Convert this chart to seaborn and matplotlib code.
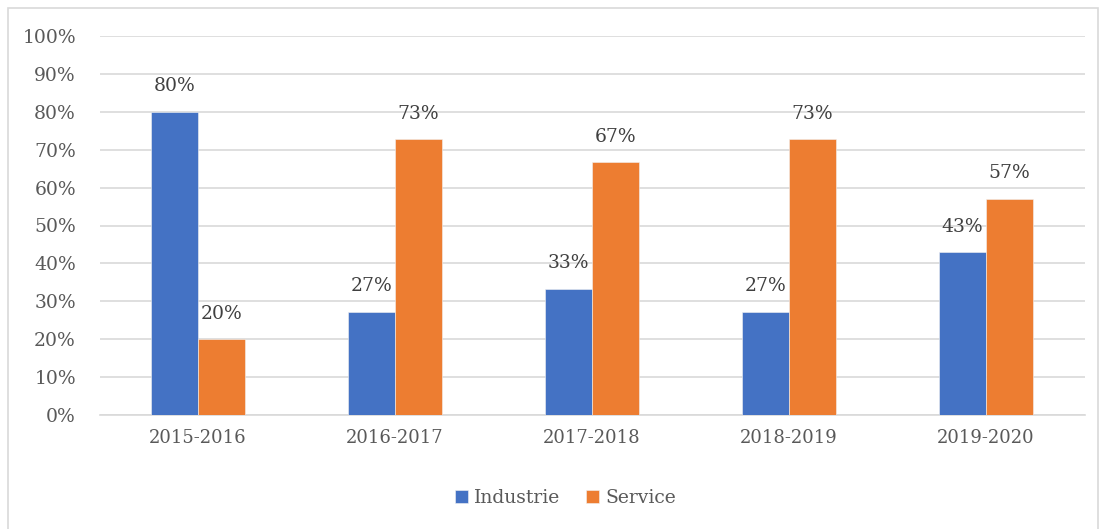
import pandas as pd
import matplotlib.pyplot as plt
import seaborn as sns
from matplotlib.patches import Rectangle
from matplotlib.ticker import PercentFormatter

YEARS = ["2015-2016", "2016-2017", "2017-2018", "2018-2019", "2019-2020"]
INDUSTRIE = [80.0, 27.3, 33.3, 27.3, 42.9]
SERVICE = [20.0, 72.7, 66.7, 72.7, 57.1]
LABELS_IND = ["80%", "27%", "33%", "27%", "43%"]
LABELS_SER = ["20%", "73%", "67%", "73%", "57%"]

BLUE = "#4472C4"
ORANGE = "#ED7D31"
TEXT = "#595959"

sns.set_style("white")
plt.rcParams["font.family"] = ["DejaVu Serif"]

df = pd.DataFrame({
    "Année": YEARS * 2,
    "Valeur": INDUSTRIE + SERVICE,
    "Secteur": ["Industrie"] * len(YEARS) + ["Service"] * len(YEARS),
})

fig = plt.figure(figsize=(11.06, 5.29), dpi=100)
ax = fig.add_axes([99.5 / 1106, 1 - 415 / 529, (1084.5 - 99.5) / 1106, (415 - 36) / 529])

sns.barplot(data=df, x="Année", y="Valeur", hue="Secteur",
            palette=[BLUE, ORANGE], width=0.476, saturation=1,
            edgecolor="#F2F2F2", linewidth=0.4, ax=ax, zorder=3)

ax.set_ylim(0, 100)
ax.set_yticks(range(0, 101, 10))
ax.yaxis.set_major_formatter(PercentFormatter(decimals=0))
ax.grid(axis="y", color="#D9D9D9", linewidth=1.2, zorder=0)
ax.set_axisbelow(True)
sns.despine(ax=ax, left=True, bottom=False, top=True, right=True)
ax.spines["bottom"].set_color("#D9D9D9")
ax.spines["bottom"].set_linewidth(1.2)
ax.tick_params(axis="x", length=0, labelsize=13, colors=TEXT, pad=10)
ax.tick_params(axis="y", length=0, labelsize=13.5, colors=TEXT, pad=17)
ax.set_xlabel("")
ax.set_ylabel("")
ax.set_xlim(-0.5, len(YEARS) - 0.5)

for cont, labels in zip(ax.containers, [LABELS_IND, LABELS_SER]):
    ax.bar_label(cont, labels=labels, padding=12, fontsize=13.5, color="#404040")

handles, labs = ax.get_legend_handles_labels()
ax.legend(handles, labs, loc="upper center", bbox_to_anchor=(0.473, -0.15),
          ncol=2, frameon=False, fontsize=13.5, labelcolor=TEXT,
          handlelength=0.7, handleheight=0.7, handletextpad=0.3, columnspacing=1.4)

fig.patches.append(Rectangle((8 / 1106, -0.05), (1098 - 8) / 1106, 1.05 - 8 / 529,
                             transform=fig.transFigure, fill=False,
                             edgecolor="#D9D9D9", linewidth=1.2))

fig.savefig("out.png", dpi=100)
